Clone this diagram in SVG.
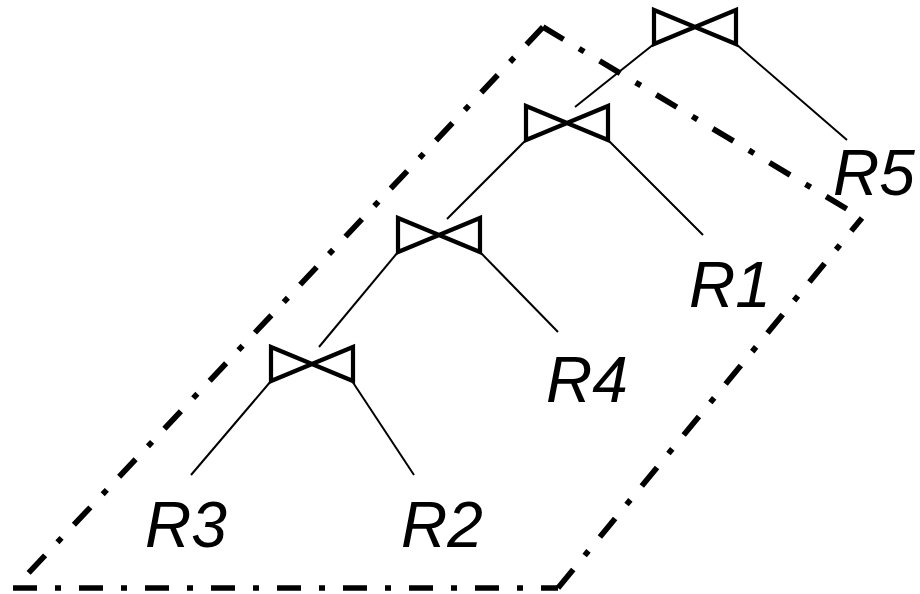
<svg xmlns="http://www.w3.org/2000/svg" width="920" height="594" viewBox="0 0 920 594">
<style>
.bt{fill:none;stroke:#000;stroke-width:4.2;stroke-linejoin:miter}
.edge{fill:none;stroke:#000;stroke-width:2}
.frame{fill:none;stroke:#000;stroke-width:5.7;stroke-dasharray:24 18 6 18;stroke-linecap:butt}
.lbl{font-family:"Liberation Sans",Arial,sans-serif;font-style:italic;font-size:64px;fill:#000}
</style>
<defs>
<path id="bowtie" class="bt" d="M0,0 L82,34 L82,0 L0,34 Z"/>
</defs>
<rect width="920" height="594" fill="#fff"/>
<g id="frame">
<line class="frame" x1="543" y1="27" x2="20" y2="582"/>
<line class="frame" x1="543" y1="27" x2="862" y2="218"/>
<line class="frame" x1="558" y1="588" x2="862" y2="218"/>
<line class="frame" x1="13" y1="588" x2="558" y2="588"/>
</g>
<g id="connectors">
<line class="edge" x1="654" y1="44" x2="575" y2="107"/>
<line class="edge" x1="736" y1="44" x2="847" y2="140"/>
<line class="edge" x1="526" y1="140" x2="447" y2="219"/>
<line class="edge" x1="608" y1="140" x2="703" y2="235"/>
<line class="edge" x1="398" y1="252" x2="319" y2="347"/>
<line class="edge" x1="480" y1="252" x2="558" y2="332"/>
<line class="edge" x1="271" y1="381" x2="191" y2="475"/>
<line class="edge" x1="352" y1="381" x2="414" y2="475"/>
</g>
<g id="join1"><use href="#bowtie" x="654" y="10"/></g>
<g id="join2"><use href="#bowtie" x="526" y="106"/></g>
<g id="join3"><use href="#bowtie" x="398" y="218"/></g>
<g id="join4"><use href="#bowtie" x="271" y="347"/></g>
<g id="R5"><text class="lbl" x="833" y="195">R5</text></g>
<g id="R1"><text class="lbl" x="689" y="307">R1</text></g>
<g id="R4"><text class="lbl" x="546" y="402">R4</text></g>
<g id="R3"><text class="lbl" x="145" y="547">R3</text></g>
<g id="R2"><text class="lbl" x="401" y="547">R2</text></g>
</svg>
